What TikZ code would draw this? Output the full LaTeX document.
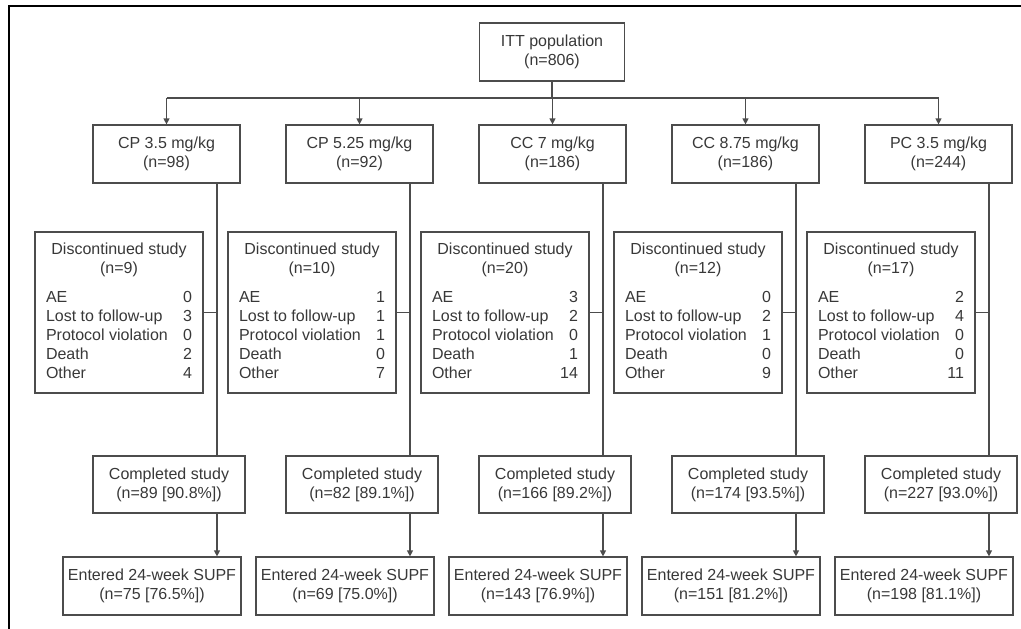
\documentclass[tikz,border=0pt]{standalone}
\usepackage{fontspec}
\setmainfont{Liberation Sans}
\usetikzlibrary{arrows.meta,calc}

\definecolor{ink}{gray}{0.22}
\definecolor{rule}{gray}{0.3}

% table inside a discontinued box
\newcommand{\disctab}[6]{%
  \begin{tabular*}{146pt}{@{}l@{\extracolsep{\fill}}r@{}}
    \multicolumn{2}{@{}c@{}}{Discontinued study}\\
    \multicolumn{2}{@{}c@{}}{(n=#1)}\\[10pt]
    AE & #2\\
    Lost to follow-up & #3\\
    Protocol violation & #4\\
    Death & #5\\
    Other & #6
  \end{tabular*}}

\begin{document}
\begin{tikzpicture}[x=1pt,y=-1pt,
    font=\fontsize{16}{19}\selectfont, text=ink,
    box/.style={draw=rule,line width=1.2pt,align=center,inner sep=0pt},
    arm/.style={box,minimum width=147pt,minimum height=58pt},
    disc/.style={box,minimum width=168pt,minimum height=161pt},
    done/.style={box,minimum width=152pt,minimum height=57pt},
    supf/.style={box,minimum width=178pt,minimum height=58pt},
    link/.style={draw=rule,line width=1.2pt},
    arrow/.style={link,-{Triangle[length=6pt,width=6pt]}}]
    \useasboundingbox (0,0) rectangle (1021,629);

    % Frame (top and left only)
    \draw[line width=2pt] (1021,6) -- (9,6) -- (9,629);

    % Whole population
    \node[box,minimum width=145pt,minimum height=58pt] (itt) at (552,52) {ITT population\\(n=806)};
    \coordinate (bus) at (552,98);
    \draw[link] (itt.south) -- (bus);

    % Treatment arms
    \foreach \i/\dose/\narm/\ndisc/\nae/\nlost/\nprot/\ndeath/\nother/\ncomp/\nsupf in {
        1/CP 3.5/98/9/0/3/0/2/4/{89 [90.8\%]}/{75 [76.5\%]},
        2/CP 5.25/92/10/1/1/1/0/7/{82 [89.1\%]}/{69 [75.0\%]},
        3/CC 7/186/20/3/2/0/1/14/{166 [89.2\%]}/{143 [76.9\%]},
        4/CC 8.75/186/12/0/2/1/0/9/{174 [93.5\%]}/{151 [81.2\%]},
        5/PC 3.5/244/17/2/4/0/0/11/{227 [93.0\%]}/{198 [81.1\%]}} {
      \pgfmathsetmacro\dx{193*(\i-1)}
      \node[arm] (arm\i) at (166.5+\dx,154) {\dose{} mg/kg\\(n=\narm)};
      \node[disc] (disc\i) at (119+\dx,312.5) {\disctab{\ndisc}{\nae}{\nlost}{\nprot}{\ndeath}{\nother}};
      \node[done] (done\i) at (169+\dx,484.5) {Completed study\\(n=\ncomp)};
      \node[supf] (supf\i) at (152+\dx,586) {Entered 24-week SUPF\\(n=\nsupf)};
      \coordinate (trunk\i) at ($(arm\i.south)+(50.5,0)$);
      % connectors
      \draw[arrow] (arm\i.north |- bus) -- (arm\i.north);
      \draw[link] (trunk\i) -- (trunk\i |- done\i.north);
      \draw[link] (disc\i.east) -- (disc\i.east -| trunk\i);
      \draw[arrow] (trunk\i |- done\i.south) -- (trunk\i |- supf\i.north);
    }

    % Bus line
    \draw[link] (arm1.north |- bus) -- (arm5.north |- bus);
\end{tikzpicture}
\end{document}
